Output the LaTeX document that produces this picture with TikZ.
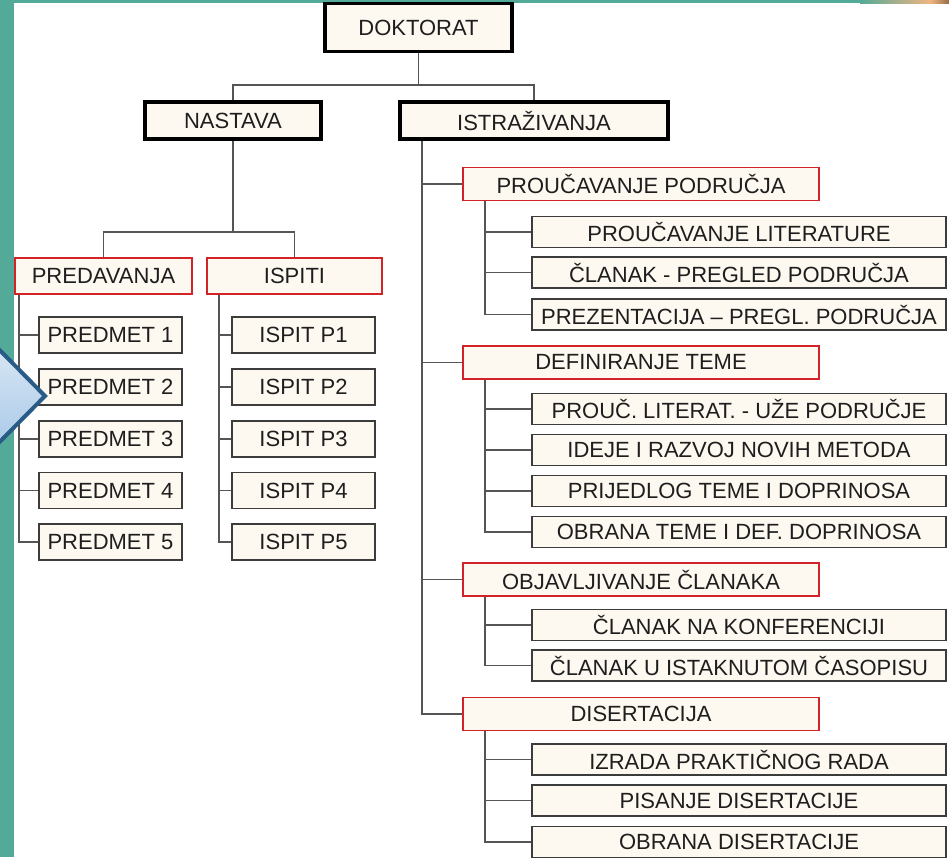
\documentclass[tikz,border=0pt]{standalone}
\usepackage{fontspec}
\setmainfont{Liberation Sans}
\usetikzlibrary{backgrounds}
\definecolor{tealbg}{RGB}{84,170,152}
\definecolor{cream}{RGB}{253,248,240}
\definecolor{redc}{RGB}{210,35,40}
\definecolor{boxgray}{RGB}{60,60,60}
\definecolor{conncol}{RGB}{85,85,85}
\definecolor{txt}{RGB}{30,30,30}
\definecolor{chevb}{RGB}{40,92,135}
\definecolor{chevl}{RGB}{228,238,248}
\definecolor{chevd}{RGB}{158,194,228}
\definecolor{peach}{RGB}{240,180,130}
\definecolor{brownish}{RGB}{150,110,70}
\begin{document}
\begin{tikzpicture}[x=1pt,y=-1pt,
  font=\fontsize{22}{24}\selectfont,
  box/.style={draw=boxgray, line width=1.5pt, fill=cream, inner sep=0pt, text=txt},
  lvlone/.style={box, draw=black, line width=3.5pt, minimum height=37pt},
  redbox/.style={box, draw=redc, line width=1.8pt},
  leafbox/.style={box, minimum width=143pt, minimum height=36pt},
  subbox/.style={box, minimum width=414pt, minimum height=31pt},
  secbox/.style={redbox, minimum width=356pt, minimum height=33pt},
  conn/.style={draw=conncol, line width=1.7pt}]
\useasboundingbox (0,0) rectangle (949,857);
\clip (0,0) rectangle (949,857);

\begin{scope}[on background layer]
  \fill[tealbg] (0,0) rectangle (949,857);
  \fill[white] (14,3) rectangle (949,857);
  \shade[left color=tealbg, right color=peach] (860,0) rectangle (930,3);
  \shade[left color=peach, right color=brownish] (930,0) rectangle (949,3);
\end{scope}

% top levels
\node[lvlone, minimum width=187pt, minimum height=48pt] (dok) at (418.5,27.5) {DOKTORAT};
\node[lvlone, minimum width=176pt] (nas) at (233,120.5) {NASTAVA};
\node[lvlone, minimum width=268pt] (ist) at (534,120.5) {ISTRAŽIVANJA};

% teaching
\node[redbox, minimum width=177pt, minimum height=36pt] (pred) at (103.5,276) {PREDAVANJA};
\node[redbox, minimum width=175pt, minimum height=36pt] (isp) at (294.5,276) {ISPITI};
\foreach \i/\y in {1/335,2/387,3/439,4/490.5,5/542}{
  \node[leafbox] (pm\i) at (110.5,\y) {PREDMET \i};
  \node[leafbox] (ip\i) at (303.5,\y) {ISPIT P\i};
}

% research
\node[secbox] (pp) at (641,184) {PROUČAVANJE PODRUČJA};
\node[subbox] (pp1) at (739,232) {PROUČAVANJE LITERATURE};
\node[subbox] (pp2) at (739,272.5) {ČLANAK - PREGLED PODRUČJA};
\node[subbox] (pp3) at (739,314.5) {PREZENTACIJA – PREGL. PODRUČJA};

\node[secbox] (dt) at (641,362.5) {DEFINIRANJE TEME};
\node[subbox] (dt1) at (739,409) {PROUČ. LITERAT. - UŽE PODRUČJE};
\node[subbox] (dt2) at (739,450) {IDEJE I RAZVOJ NOVIH METODA};
\node[subbox] (dt3) at (739,491) {PRIJEDLOG TEME I DOPRINOSA};
\node[subbox] (dt4) at (739,532) {OBRANA TEME I DEF. DOPRINOSA};

\node[secbox] (ob) at (641,579.5) {OBJAVLJIVANJE ČLANAKA};
\node[subbox] (ob1) at (739,625) {ČLANAK NA KONFERENCIJI};
\node[subbox] (ob2) at (739,665.5) {ČLANAK U ISTAKNUTOM ČASOPISU};

\node[secbox] (dis) at (641,714) {DISERTACIJA};
\node[subbox] (dis1) at (739,759.5) {IZRADA PRAKTIČNOG RADA};
\node[subbox] (dis2) at (739,800.5) {PISANJE DISERTACIJE};
\node[subbox] (dis3) at (739,842) {OBRANA DISERTACIJE};

% connectors
\begin{scope}[on background layer]
  \coordinate (bus0) at (0,85);
  \coordinate (bus1) at (0,232);
  \draw[conn] (dok.south) -- (dok.south |- bus0);
  \draw[conn] (nas.north) |- (bus0 -| ist.north) -- (ist.north);
  \draw[conn] (nas.south) -- (nas.south |- bus1);
  \draw[conn] (pred.north) |- (bus1 -| isp.north) -- (isp.north);
  \coordinate (pv) at ([xshift=5pt]pred.south west);
  \coordinate (iv) at ([xshift=13pt]isp.south west);
  \foreach \i in {1,...,5}{
    \draw[conn] (pv) |- (pm\i.west);
    \draw[conn] (iv) |- (ip\i.west);
  }
  \coordinate (sv) at ([xshift=24pt]ist.south west);
  \foreach \n in {pp,dt,ob,dis}{ \draw[conn] (sv) |- (\n.west); }
  \coordinate (ppv) at ([xshift=23pt]pp.south west);
  \foreach \n in {pp1,pp2,pp3}{ \draw[conn] (ppv) |- (\n.west); }
  \coordinate (dtv) at ([xshift=23pt]dt.south west);
  \foreach \n in {dt1,dt2,dt3,dt4}{ \draw[conn] (dtv) |- (\n.west); }
  \coordinate (obv) at ([xshift=23pt]ob.south west);
  \foreach \n in {ob1,ob2}{ \draw[conn] (obv) |- (\n.west); }
  \coordinate (disv) at ([xshift=23pt]dis.south west);
  \foreach \n in {dis1,dis2,dis3}{ \draw[conn] (disv) |- (\n.west); }
\end{scope}

% chevron on the left
\draw[line width=4pt, draw=chevb, top color=chevl, bottom color=chevd, line join=miter]
  (-30,320) -- (45,396) -- (-30,472) -- cycle;
\end{tikzpicture}
\end{document}
